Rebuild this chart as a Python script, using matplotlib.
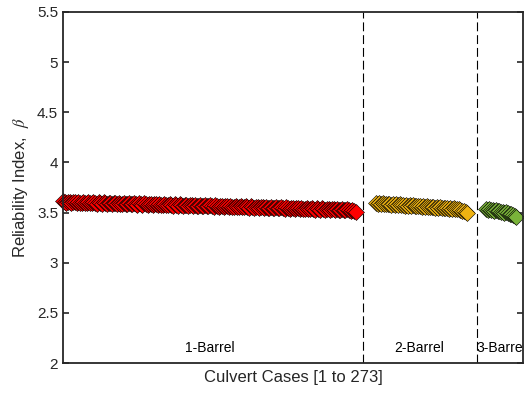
import matplotlib
matplotlib.use("Agg")
import matplotlib.pyplot as plt

plt.rcParams['font.family'] = ['Liberation Sans', 'DejaVu Sans']
plt.rcParams['mathtext.fontset'] = 'stix'

beta_1barrel = [
    3.612, 3.605, 3.598, 3.610, 3.603, 3.596, 3.608, 3.601, 3.594, 3.607,
    3.600, 3.593, 3.606, 3.599, 3.592, 3.605, 3.598, 3.591, 3.603, 3.596,
    3.590, 3.602, 3.595, 3.588, 3.601, 3.594, 3.587, 3.600, 3.593, 3.586,
    3.598, 3.591, 3.585, 3.597, 3.590, 3.583, 3.596, 3.589, 3.582, 3.595,
    3.588, 3.581, 3.593, 3.586, 3.580, 3.592, 3.585, 3.578, 3.591, 3.584,
    3.577, 3.589, 3.582, 3.576, 3.588, 3.581, 3.574, 3.587, 3.580, 3.573,
    3.585, 3.578, 3.572, 3.584, 3.577, 3.570, 3.583, 3.576, 3.569, 3.581,
    3.575, 3.568, 3.580, 3.573, 3.566, 3.579, 3.572, 3.565, 3.577, 3.570,
    3.564, 3.576, 3.569, 3.562, 3.574, 3.567, 3.561, 3.573, 3.566, 3.559,
    3.572, 3.565, 3.558, 3.570, 3.563, 3.556, 3.569, 3.562, 3.555, 3.567,
    3.560, 3.554, 3.566, 3.559, 3.552, 3.564, 3.558, 3.551, 3.563, 3.556,
    3.549, 3.561, 3.555, 3.548, 3.560, 3.553, 3.546, 3.558, 3.552, 3.545,
    3.557, 3.550, 3.543, 3.556, 3.549, 3.542, 3.554, 3.547, 3.541, 3.553,
    3.546, 3.539, 3.551, 3.544, 3.538, 3.550, 3.543, 3.536, 3.548, 3.541,
    3.535, 3.547, 3.540, 3.533, 3.545, 3.538, 3.532, 3.544, 3.537, 3.530,
    3.542, 3.535, 3.529, 3.541, 3.534, 3.527, 3.539, 3.532, 3.526, 3.538,
    3.531, 3.524, 3.536, 3.529, 3.522, 3.535, 3.528, 3.521, 3.533, 3.526,
    3.519, 3.524, 3.515, 3.505,
]
beta_2barrel = [
    3.598, 3.590, 3.595, 3.587, 3.593, 3.585, 3.590, 3.582, 3.588, 3.580,
    3.586, 3.578, 3.583, 3.575, 3.581, 3.573, 3.578, 3.570, 3.576, 3.568,
    3.573, 3.566, 3.571, 3.563, 3.568, 3.561, 3.566, 3.558, 3.563, 3.556,
    3.561, 3.553, 3.558, 3.551, 3.556, 3.548, 3.553, 3.546, 3.551, 3.543,
    3.548, 3.541, 3.546, 3.538, 3.543, 3.536, 3.541, 3.533, 3.538, 3.531,
    3.526, 3.520, 3.512, 3.503, 3.495,
]
beta_3barrel = [
    3.535, 3.530, 3.532, 3.525, 3.527, 3.519, 3.521, 3.513, 3.515, 3.507,
    3.508, 3.500, 3.501, 3.493, 3.489, 3.482, 3.475, 3.466, 3.456,
]
group_first_case = [1, 186, 251]
group_boundaries = [178.5, 245.5]
group_labels = ['1-Barrel', '2-Barrel', '3-Barrel']
group_label_x = [87.6, 211.8, 245.2]
group_colors = ['#FF0000', '#EFB312', '#7AB43A']

fig = plt.figure(figsize=(5.24, 3.96), dpi=100)
ax = fig.add_axes([0.1202, 0.0833, 0.878, 0.8864])

groups = [beta_1barrel, beta_2barrel, beta_3barrel]
for vals, first, col in zip(groups, group_first_case, group_colors):
    xs = list(range(first, first + len(vals)))
    ax.plot(xs, vals, linestyle='none', marker='D', markersize=8.2,
            markerfacecolor=col, markeredgecolor='black', markeredgewidth=0.4,
            clip_on=False)

for b in group_boundaries:
    ax.axvline(b, color='black', linestyle=(0, (8, 3.5)), linewidth=0.8)

ax.text(group_label_x[0], 2.15, group_labels[0], fontsize=10, ha='center', va='center')
ax.text(group_label_x[1], 2.15, group_labels[1], fontsize=10, ha='center', va='center')
ax.text(group_label_x[2], 2.15, group_labels[2], fontsize=10, ha='left', va='center', clip_on=True)

ax.set_xlim(1, 273)
ax.set_ylim(2, 5.5)
ax.set_xticks([])
ax.set_yticks([2, 2.5, 3, 3.5, 4, 4.5, 5, 5.5])
ax.set_yticklabels(['2', '2.5', '3', '3.5', '4', '4.5', '5', '5.5'])
ax.tick_params(axis='y', direction='in', length=4, width=1.2, labelsize=11,
               right=True, colors='#262626', labelcolor='#262626')
for s in ax.spines.values():
    s.set_linewidth(1.3)
    s.set_color('#262626')

ax.set_xlabel('Culvert Cases [1 to 273]', fontsize=12, color='#262626', labelpad=5)
ax.set_ylabel('Reliability Index,  $\\beta$', fontsize=12, color='#262626', labelpad=4)

fig.savefig('out.png', dpi=100)
